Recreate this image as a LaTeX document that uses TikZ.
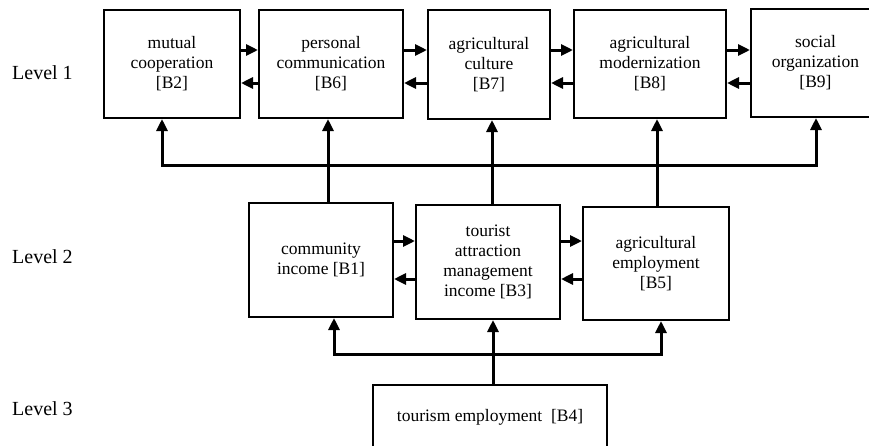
\documentclass[tikz,border=0pt]{standalone}
\usepackage{fontspec}
\setmainfont{Liberation Serif}
\usetikzlibrary{arrows.meta,calc}
\tikzset{
  box/.style={draw, line width=2pt, align=center, inner sep=2pt,
    font=\fontsize{17.5}{20}\selectfont},
  conn/.style={line width=3pt, -{Triangle[length=12pt,width=11pt]}},
  lvl/.style={anchor=base west, inner sep=0pt, font=\fontsize{20}{24}\selectfont}
}
\begin{document}
\begin{tikzpicture}[x=1pt,y=-1pt]
\clip (0,0) rectangle (869,445);
\fill[white] (0,0) rectangle (869,445);
% level labels
\node[lvl] (L1) at (12,79) {Level 1};
\node[lvl] (L2) at (12,263) {Level 2};
\node[lvl] (L3) at (12,415) {Level 3};
% level 1 boxes
\node[box, minimum width=136pt, minimum height=108pt] (B2) at (172,64) {mutual\\cooperation\\{[B2]}};
\node[box, minimum width=144pt, minimum height=108pt] (B6) at (331,64) {personal\\communication\\{[B6]}};
\node[box, minimum width=122pt, minimum height=109pt] (B7) at (489,64.5) {agricultural\\culture\\{[B7]}};
\node[box, minimum width=152pt, minimum height=108pt] (B8) at (650,64) {agricultural\\modernization\\{[B8]}};
\node[box, minimum width=129pt, minimum height=108pt] (B9) at (815.5,63) {social\\organization\\{[B9]}};
% level 2 boxes
\node[box, minimum width=144pt, minimum height=114pt] (B1) at (321,260) {community\\income [B1]};
\node[box, minimum width=144pt, minimum height=114pt] (B3) at (488,262) {tourist\\attraction\\management\\income [B3]};
\node[box, minimum width=146pt, minimum height=113pt] (B5) at (656,263.5) {agricultural\\employment\\{[B5]}};
% level 3 box
\node[box, minimum width=234pt, minimum height=64pt] (B4) at (490,417) {tourism employment~ [B4]};
% helper coordinates
\coordinate (r1) at (0,50);
\coordinate (l1) at (0,83);
\coordinate (r2) at (0,241);
\coordinate (l2) at (0,279);
\coordinate (bus1) at (0,165);
\coordinate (bus2) at (0,354);
\coordinate (a2) at (162,0);
\coordinate (v1) at (328,0);
\coordinate (v2) at (492,0);
\coordinate (v3) at (657,0);
\coordinate (a9) at (816,0);
\coordinate (w1) at (334,0);
\coordinate (w2) at (493,0);
\coordinate (w3) at (661,0);
% level 1 horizontal arrows
\draw[conn] (B2.east |- r1) -- (B6.west |- r1);
\draw[conn] (B6.west |- l1) -- (B2.east |- l1);
\draw[conn] (B6.east |- r1) -- (B7.west |- r1);
\draw[conn] (B7.west |- l1) -- (B6.east |- l1);
\draw[conn] (B7.east |- r1) -- (B8.west |- r1);
\draw[conn] (B8.west |- l1) -- (B7.east |- l1);
\draw[conn] (B8.east |- r1) -- (B9.west |- r1);
\draw[conn] (B9.west |- l1) -- (B8.east |- l1);
% level 2 horizontal arrows
\draw[conn] (B1.east |- r2) -- (B3.west |- r2);
\draw[conn] (B3.west |- l2) -- (B1.east |- l2);
\draw[conn] (B3.east |- r2) -- (B5.west |- r2);
\draw[conn] (B5.west |- l2) -- (B3.east |- l2);
% level 2 -> level 1
\draw[conn] (B1.north -| v1) -- (B6.south -| v1);
\draw[conn] (B3.north -| v2) -- (B7.south -| v2);
\draw[conn] (B5.north -| v3) -- (B8.south -| v3);
\draw[conn] (v1 |- bus1) -| (B2.south -| a2);
\draw[conn] (v1 |- bus1) -| (B9.south -| a9);
% level 3 -> level 2
\draw[conn] (B4.north -| w2) -- (B3.south -| w2);
\draw[conn] (w2 |- bus2) -| (B1.south -| w1);
\draw[conn] (w2 |- bus2) -| (B5.south -| w3);
\end{tikzpicture}
\end{document}
